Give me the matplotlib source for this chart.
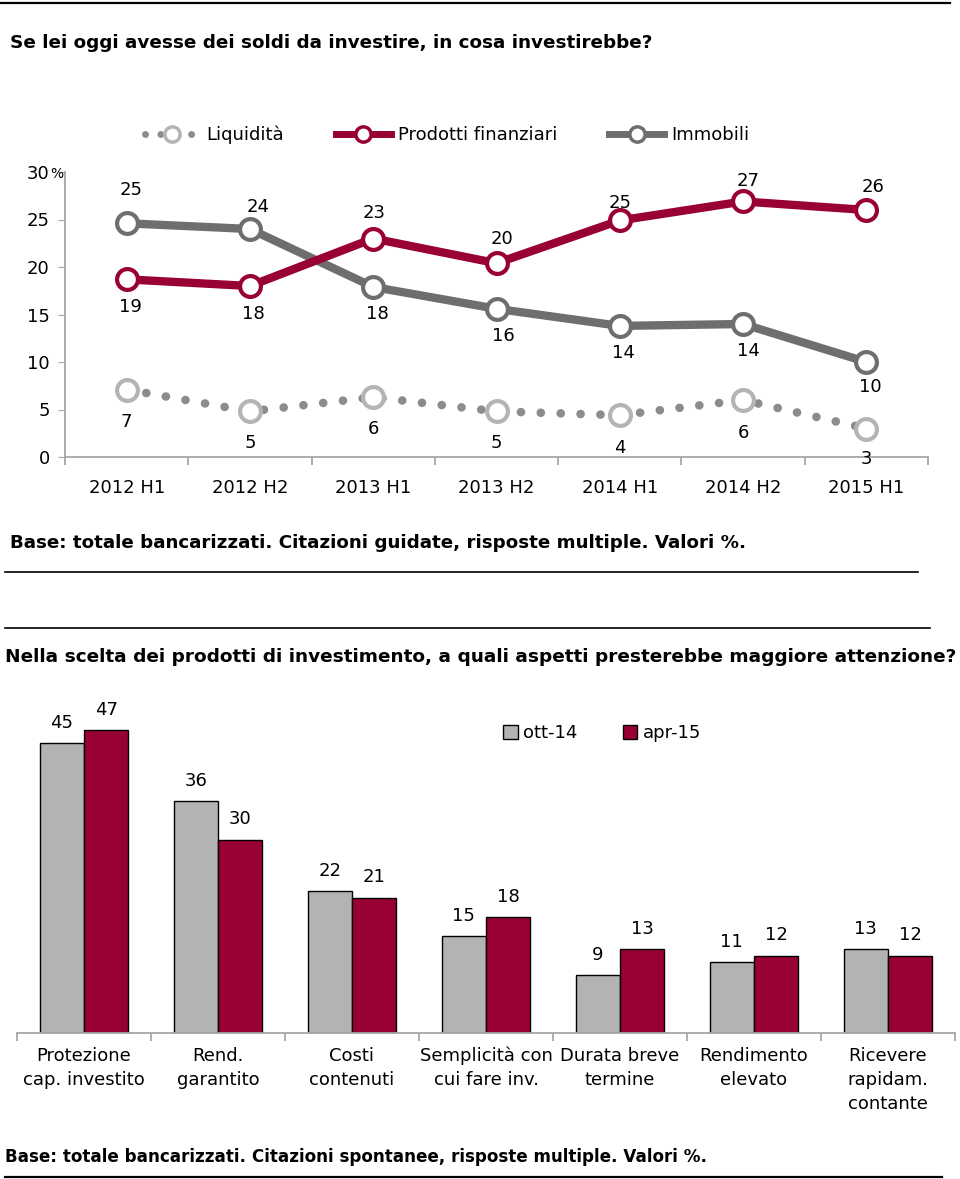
import matplotlib
matplotlib.use("Agg")
import matplotlib.pyplot as plt
from matplotlib.lines import Line2D
from matplotlib.patches import Patch

# ---------------- data ----------------
periods = ["2012 H1", "2012 H2", "2013 H1", "2013 H2", "2014 H1", "2014 H2", "2015 H1"]
liquidita = [7.1, 4.8, 6.3, 4.8, 4.4, 6.0, 3.0]
prodotti = [18.7, 18.0, 23.0, 20.4, 24.9, 26.9, 26.0]
immobili = [24.6, 24.0, 17.9, 15.6, 13.8, 14.0, 10.0]
y_ticks = [0, 5, 10, 15, 20, 25, 30]

aspects = ["Protezione\ncap. investito", "Rend.\ngarantito", "Costi\ncontenuti",
           "Semplicità con\ncui fare inv.", "Durata breve\ntermine", "Rendimento\nelevato",
           "Ricevere\nrapidam.\ncontante"]
ott14 = [45, 36, 22, 15, 9, 11, 13]
apr15 = [47, 30, 21, 18, 13, 12, 12]

title1 = "Se lei oggi avesse dei soldi da investire, in cosa investirebbe?"
note1 = "Base: totale bancarizzati. Citazioni guidate, risposte multiple. Valori %."
title2 = "Nella scelta dei prodotti di investimento, a quali aspetti presterebbe maggiore attenzione?"
note2 = "Base: totale bancarizzati. Citazioni spontanee, risposte multiple. Valori %."

# label placement offsets (pixels: dx, dy; dy positive = up)
imm_off = [(4, 33), (8, 22), (4, -27), (7, -27), (4, -27), (5, -27), (4, -25)]
prod_off = [(4, -28), (3, -28), (1, 25), (5, 24), (0, 17), (5, 20), (7, 23)]
liq_off = [(0, -32), (0, -32), (0, -32), (0, -32), (0, -33), (0, -33), (0, -30)]

# ---------------- style ----------------
FONT = "DejaVu Sans"
plt.rcParams["font.family"] = [FONT]
RED = "#990033"
DGREY = "#6e6e6e"
LGREY = "#b4b4b4"
DOT = "#8c8c8c"
BARGREY = "#b3b3b3"
AX = "#a6a6a6"
PT = 0.72  # points per pixel at dpi 100

W, H = 960, 1179
fig = plt.figure(figsize=(W / 100, H / 100), dpi=100)


def fx(px):
    return px / W


def fy(py):
    return 1 - py / H


def hline(y, x0, x1, lw=1.5):
    fig.add_artist(Line2D([fx(x0), fx(x1)], [fy(y), fy(y)], color="black", lw=lw))


# ---------------- header texts / rules ----------------
hline(3, 0, 950, 1.6)
fig.text(fx(10), fy(43), title1, fontsize=13.2, fontweight="bold", va="center", ha="left")
fig.text(fx(10), fy(543), note1, fontsize=13.15, fontweight="bold", va="center", ha="left")
hline(572, 5, 918, 1.2)
hline(628, 5, 930, 1.2)
fig.text(fx(5), fy(657), title2, fontsize=13.3, fontweight="bold", va="center", ha="left")
fig.text(fx(5), fy(1157), note2, fontsize=12.1, fontweight="bold", va="center", ha="left")
hline(1177, 5, 942, 1.6)

# ---------------- line chart ----------------
ax1 = fig.add_axes([fx(65), fy(457), fx(928 - 65), (457 - 172) / H])
x = list(range(len(periods)))
ax1.set_xlim(-0.5, len(periods) - 0.5)
ax1.set_ylim(0, 30)

ax1.plot(x, liquidita, color=DOT, lw=6.2, linestyle=(0, (0.01, 2.3)),
         dash_capstyle="round", zorder=2)
ax1.plot(x, liquidita, linestyle="none", marker="o", ms=15, mfc="white",
         mec=LGREY, mew=3, zorder=3)
ax1.plot(x, prodotti, color=RED, lw=6, marker="o", ms=15, mfc="white",
         mec=RED, mew=3, solid_capstyle="round", zorder=4)
ax1.plot(x, immobili, color=DGREY, lw=6, marker="o", ms=15, mfc="white",
         mec=DGREY, mew=3, solid_capstyle="round", zorder=3)

LBL = 13
for i in x:
    for vals, off in ((immobili, imm_off), (prodotti, prod_off), (liquidita, liq_off)):
        dx, dy = off[i]
        ax1.annotate(f"{vals[i]:.0f}", (i, vals[i]), xytext=(dx * PT, dy * PT),
                     textcoords="offset points", ha="center", va="center", fontsize=LBL)

for s in ["top", "right"]:
    ax1.spines[s].set_visible(False)
for s in ["left", "bottom"]:
    ax1.spines[s].set_color(AX)
    ax1.spines[s].set_linewidth(1.3)
ax1.set_yticks(y_ticks)
ax1.set_yticklabels([str(t) for t in y_ticks], fontsize=LBL)
fig.text(fx(50), fy(174), "%", fontsize=10, ha="left", va="center")
ax1.tick_params(axis="y", length=5, color=AX, pad=6)
ax1.set_xticks(x)
ax1.set_xticklabels(periods, fontsize=LBL)
ax1.set_xticks([i - 0.5 for i in range(len(periods) + 1)], minor=True)
ax1.tick_params(axis="x", which="major", length=0, pad=16)
ax1.tick_params(axis="x", which="minor", length=6, color=AX, width=1.3)

leg_handles = [
    Line2D([], [], color=DOT, lw=5, linestyle=(0, (0.01, 2.2)), dash_capstyle="round",
           marker="o", ms=11, mfc="white", mec=LGREY, mew=2.5),
    Line2D([], [], color=RED, lw=5, marker="o", ms=11, mfc="white", mec=RED, mew=2.5),
    Line2D([], [], color=DGREY, lw=5, marker="o", ms=11, mfc="white", mec=DGREY, mew=2.5),
]
fig.legend(leg_handles, ["Liquidità", "Prodotti finanziari", "Immobili"],
           loc="center", bbox_to_anchor=(fx(447), fy(135)), ncol=3, frameon=False,
           fontsize=LBL, handlelength=3.0, handletextpad=0.4, columnspacing=2.9)

# ---------------- bar chart ----------------
base_y = 1033
ppu = 6.45
top_val = 50
ax2 = fig.add_axes([fx(17), fy(base_y), fx(955 - 17), top_val * ppu / H])
bx = list(range(len(aspects)))
bw = 0.332
b1 = ax2.bar([i - bw / 2 for i in bx], ott14, width=bw, color=BARGREY,
             edgecolor="black", linewidth=1.0, label="ott-14")
b2 = ax2.bar([i + bw / 2 for i in bx], apr15, width=bw, color=RED,
             edgecolor="black", linewidth=1.0, label="apr-15")
for bars, vals in ((b1, ott14), (b2, apr15)):
    for rect, v in zip(bars, vals):
        ax2.annotate(f"{v}", (rect.get_x() + rect.get_width() / 2, v),
                     xytext=(0, 14.5), textcoords="offset points",
                     ha="center", va="center", fontsize=LBL)
ax2.set_xlim(-0.5, len(aspects) - 0.5)
ax2.set_ylim(0, top_val)
for s in ["top", "right", "left"]:
    ax2.spines[s].set_visible(False)
ax2.spines["bottom"].set_color(AX)
ax2.spines["bottom"].set_linewidth(1.3)
ax2.set_yticks([])
ax2.set_xticks(bx)
ax2.set_xticklabels(aspects, fontsize=LBL, linespacing=1.42)
ax2.set_xticks([i - 0.5 for i in range(len(aspects) + 1)], minor=True)
ax2.tick_params(axis="x", which="major", length=0, pad=10)
ax2.tick_params(axis="x", which="minor", length=6, color=AX, width=1.3)

ax2.legend([Patch(facecolor=BARGREY, edgecolor="black"),
            Patch(facecolor=RED, edgecolor="black")], ["ott-14", "apr-15"],
           loc="center", bbox_to_anchor=(fx(602), fy(733)), bbox_transform=fig.transFigure,
           ncol=2, frameon=False, fontsize=LBL, handlelength=0.8, handleheight=0.8,
           handletextpad=0.3, columnspacing=2.5)

fig.savefig("out.png", dpi=100)
